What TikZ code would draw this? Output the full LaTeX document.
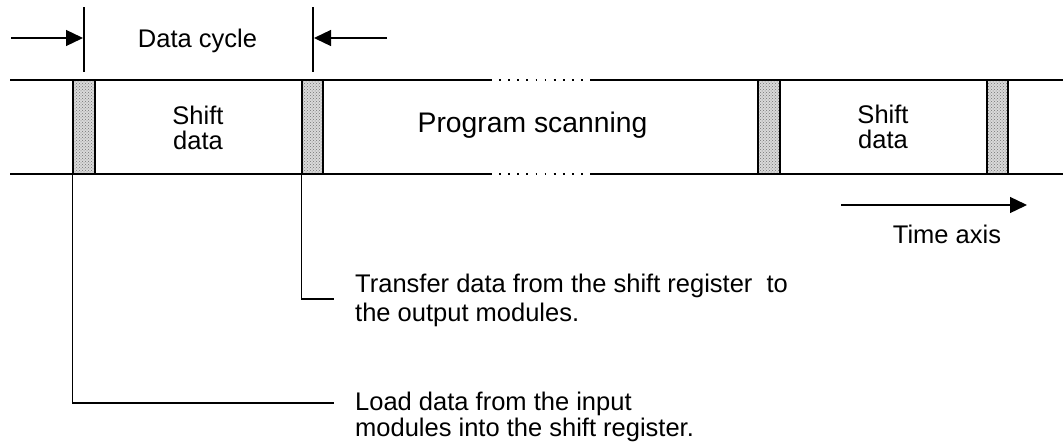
\documentclass[tikz,border=0pt]{standalone}
\usepackage{fontspec}
\setmainfont{Liberation Sans}
\usetikzlibrary{arrows.meta,patterns}
\tikzset{
  main/.style={line width=1.8pt},
  thin/.style={line width=1.3pt},
  arr/.style={line width=1.3pt,-{Triangle[length=17pt,width=16pt]}},
  bar/.style={fill=gray!30,draw=none,minimum height=94pt,inner sep=0pt},
  stip/.style={pattern=crosshatch dots,pattern color=black!55},
  edge/.style={line width=2.4pt},
  lbl/.style={font=\fontsize{25.5}{25}\selectfont,inner sep=0pt,align=center},
  note/.style={font=\fontsize{25.5}{28}\selectfont,inner sep=0pt,anchor=base west},
  lead/.style={line width=1.3pt}
}
\begin{document}
\begin{tikzpicture}[x=1pt,y=-1pt]
\useasboundingbox (0,0) rectangle (1063,445);
% bars
\node[bar,minimum width=22pt] (b1) at (84,127) {};
\node[bar,minimum width=21pt] (b2) at (312.5,127) {};
\node[bar,minimum width=22pt] (b3) at (769,127) {};
\node[bar,minimum width=21pt] (b4) at (997.5,127) {};
\foreach \b in {b1,b2,b3,b4}{
  \fill[stip] (\b.north west) rectangle (\b.south east);
  \draw[edge] (\b.north west) -- (\b.south west);
  \draw[edge] (\b.north east) -- (\b.south east);
}
% top and bottom lines
\coordinate (tl) at (10,80);
\coordinate (td1) at (490,80);
\coordinate (td2) at (592,80);
\coordinate (tr) at (1063,80);
\coordinate (bl) at (10,174);
\coordinate (bd1) at (490,174);
\coordinate (bd2) at (592,174);
\coordinate (br) at (1063,174);
\draw[main] (tl) -- (td1);
\draw[main,line width=1.6pt,dash pattern=on 1.8pt off 7.3pt] (td1) -- (td2);
\draw[main] (td2) -- (tr);
\draw[main] (bl) -- (bd1);
\draw[main,line width=1.6pt,dash pattern=on 1.8pt off 7.3pt] (bd1) -- (bd2);
\draw[main] (bd2) -- (br);
% texts in the band
\node[lbl] (s1) at (198,127.5) {Shift\\data};
\node[lbl,font=\fontsize{28.3}{30}\selectfont,anchor=base] (ps) at (532.5,132) {Program scanning};
\node[lbl] (s2) at (883,127) {Shift\\data};
% data cycle
\coordinate (v1t) at (84,7);
\coordinate (v1b) at (84,72);
\coordinate (v2t) at (313,7);
\coordinate (v2b) at (313,72);
\draw[thin] (v1t) -- (v1b);
\draw[thin] (v2t) -- (v2b);
\coordinate (a1s) at (11,38);
\coordinate (a1e) at (83,38);
\coordinate (a2s) at (387,38);
\coordinate (a2e) at (314,38);
\draw[arr] (a1s) -- (a1e);
\draw[arr] (a2s) -- (a2e);
\node[lbl,anchor=base] (dc) at (197.5,47) {Data cycle};
% time axis
\coordinate (t1) at (841,205);
\coordinate (t2) at (1027,205);
\draw[arr] (t1) -- (t2);
\node[lbl,anchor=base] (ta) at (947,243) {Time axis};
% notes
\node[note] (tr1) at (355,292) {Transfer data from the shift register \ to};
\node[note] (tr2) at (355,321) {the output modules.};
\node[note] (ld1) at (355,410) {Load data from the input};
\node[note] (ld2) at (355,436) {modules into the shift register.};
\coordinate (c2) at (334,299);
\coordinate (c1) at (334,403);
\draw[lead] (b2.south west) |- (c2);
\draw[lead] (b1.south west) |- (c1);
\end{tikzpicture}
\end{document}
